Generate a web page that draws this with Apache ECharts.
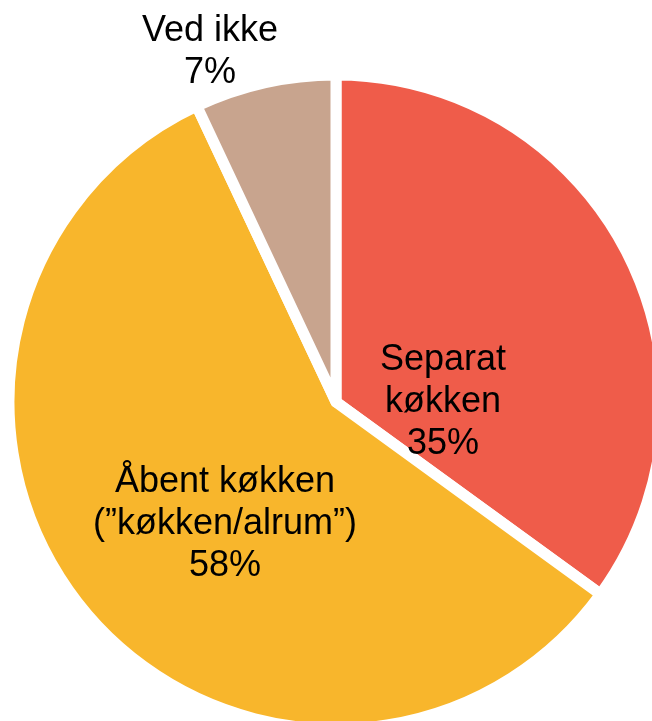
<!DOCTYPE html>
<html>
<head>
<meta charset="utf-8">
<script src="https://cdn.jsdelivr.net/npm/echarts@6/dist/echarts.min.js"></script>
<style>
html,body{margin:0;padding:0;background:#fff;}
#c{width:652px;height:721px;}
</style>
</head>
<body>
<div id="c"></div>
<script>
// Data
const categories = ['Separat\nkøkken', 'Åbent køkken\n(”køkken/alrum”)', 'Ved ikke'];
const values = [35, 58, 7];
const colors = ['#EF5C4A', '#F8B62C', '#C8A48E'];

// Layout (styling, not data)
const CX = 336, CY = 402;
const labelPolar = [ // [distance from centre, angle clockwise from top in degrees]
  [107, 90],
  [165, 222.3],
  [372, 340.2]
];

const chart = echarts.init(document.getElementById('c'), null, {renderer: 'canvas'});
chart.setOption({
  backgroundColor: '#ffffff',
  animation: false,
  series: [{
    type: 'pie',
    center: [CX, CY],
    radius: [0, 327],
    startAngle: 90,
    clockwise: true,
    silent: true,
    itemStyle: {borderColor: '#ffffff', borderWidth: 11},
    label: {
      show: true,
      position: 'inside',
      color: '#000000',
      fontFamily: 'Liberation Sans, Arial, sans-serif',
      fontSize: 36,
      lineHeight: 42,
      align: 'center',
      verticalAlign: 'middle',
      formatter: p => p.name + '\n' + p.value + '%'
    },
    labelLine: {show: false},
    labelLayout: function (params) {
      const lp = labelPolar[params.dataIndex];
      const a = lp[1] * Math.PI / 180;
      return {
        x: CX + lp[0] * Math.sin(a),
        y: CY - lp[0] * Math.cos(a),
        align: 'center',
        verticalAlign: 'middle'
      };
    },
    data: categories.map((c, i) => ({name: c, value: values[i], itemStyle: {color: colors[i]}}))
  }]
});
</script>
</body>
</html>
